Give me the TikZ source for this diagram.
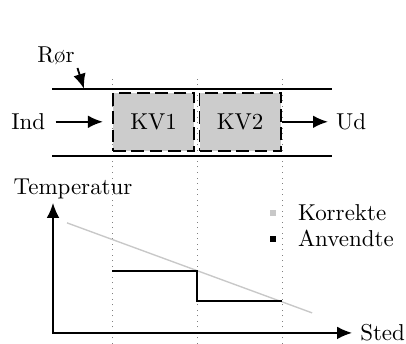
\documentclass[tikz,border=0pt]{standalone}
\usepackage{xcolor}
\definecolor{kvgray}{RGB}{204,204,204}
\definecolor{kvlight}{RGB}{200,200,200}
\usepackage{tikz}
\usetikzlibrary{arrows.meta, positioning}

\begin{document}
\begin{tikzpicture}[
    >={Latex[length=6.5pt,width=5.5pt]},
    pipe/.style={thick},
    pil/.style={thick, ->},
    kvbox/.style={draw, thick, dash pattern=on 5.5pt off 2.5pt, fill=kvgray,
                  minimum width=1.24cm, minimum height=0.89cm, inner sep=0pt},
    guide/.style={gray, dotted},
    swatch/.style={minimum size=0.1cm, inner sep=0pt}
]
\useasboundingbox (0,0) rectangle (6.21,5.26);

% --- Dotted guides through both panels ---
\foreach \x in {1.714,3.014,4.315} {
    \draw[guide] (\x,0) -- (\x,4.055);
}

% --- Pipe with control volumes ---
\draw[pipe] (0.796,3.902) -- (5.08,3.902);
\draw[pipe] (0.796,2.876) -- (5.08,2.876);

\node[kvbox] (kv1) at (2.349,3.397) {KV1};
\node[kvbox] (kv2) at (3.672,3.397) {KV2};

\node (ind) at (0.433,3.397) {Ind};
\node (ud) at (5.37,3.397) {Ud};
\draw[pil, shorten <=1pt, shorten >=4pt] (ind) -- (kv1);
\draw[pil] (kv2) -- (ud);

% Label for the pipe wall
\node[inner sep=1pt] (ror) at (0.857,4.40) {Rør};
\coordinate (rorpil) at (1.285,3.902);
\draw[pil] (ror.south east) -- (rorpil);

% --- Temperature along the pipe ---
\coordinate (origo) at (0.811,0.168);
\coordinate (yende) at (0.811,2.157);
\coordinate (xende) at (5.386,0.168);
\draw[thick, <->] (yende) -- (origo) -- (xende);
\node[right=0pt of xende] (sted) {Sted};
\node (temp) at (1.117,2.365) {Temperatur};

% Correct profile and the one used per volume
\draw[kvlight, semithick] (1.025,1.851) -- (4.774,0.474);
\draw[thick] (1.714,1.117) -- (3.014,1.117) -- (3.014,0.658) -- (4.315,0.658);

% Legend
\node[swatch, fill=kvlight] (korsq) at (4.177,2.004) {};
\node[right=0.2cm of korsq] (korrekte) {Korrekte};
\node[swatch, fill=black] (anvsq) at (4.177,1.607) {};
\node[right=0.2cm of anvsq] (anvendte) {Anvendte};

\end{tikzpicture}
\end{document}
